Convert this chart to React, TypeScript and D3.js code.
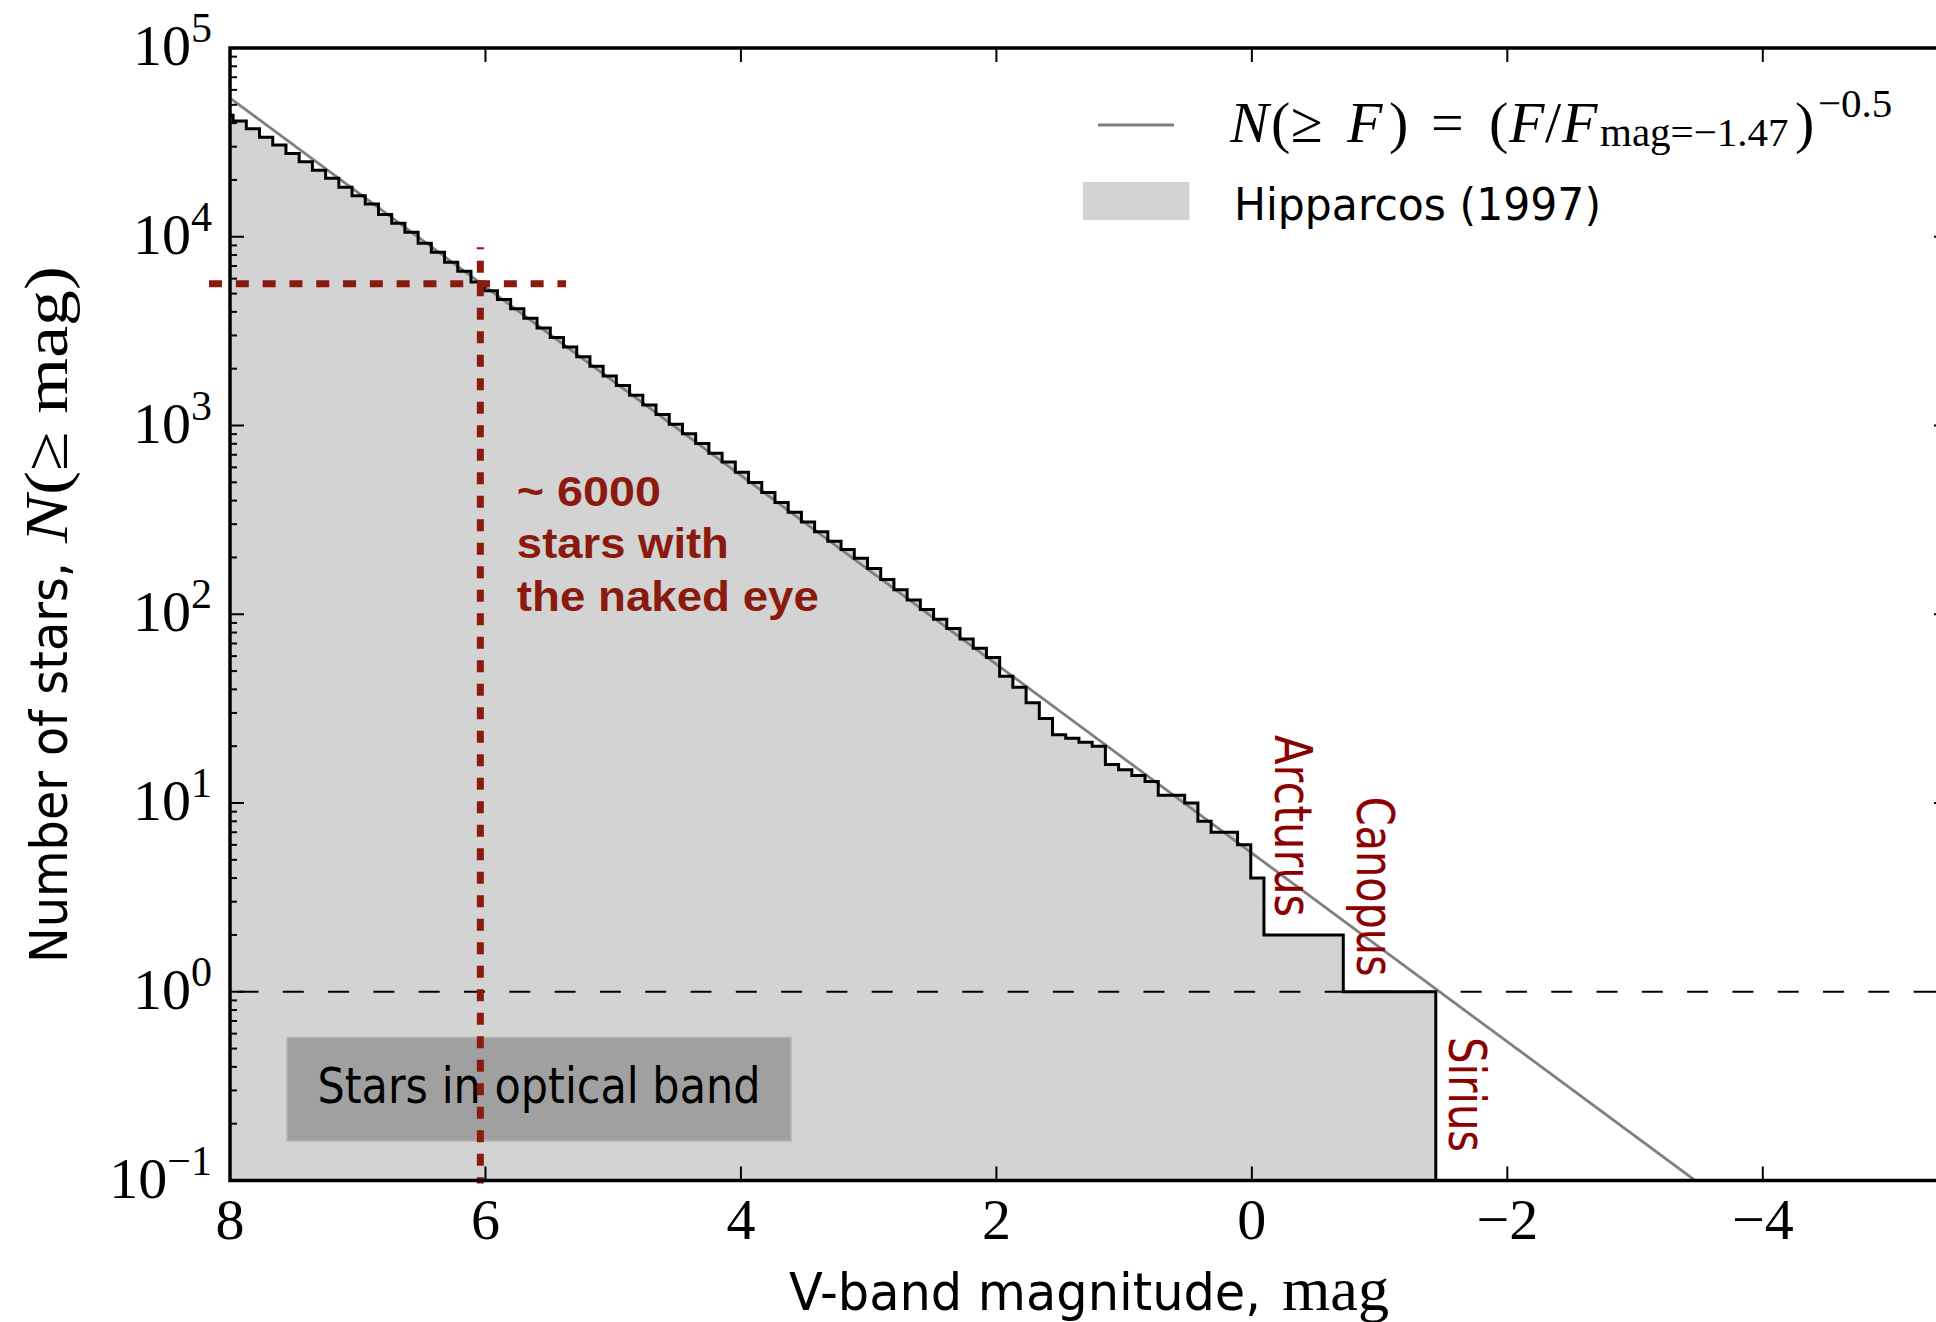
import React from 'react';
import * as d3 from 'd3';

// ---------------- data ----------------
// Hipparcos (1997) cumulative star counts N(< bin's faint edge), binned in V magnitude.
const binStartMag = -1.44;
const binWidthMag = 0.10347;
// bins 0..91, from bright (Sirius) to faint (~8 mag)
const hipparcosCumulative: number[] = [
  1, 1, 1, 1, 1, 1, 1,
  2, 2, 2, 2, 2, 2,
  4, 6, 7, 7, 8, 10, 11, 11, 13, 14, 15, 16, 20, 21, 22, 23, 28, 34, 41, 47, 59,
  66, 74, 84, 94, 106, 119, 135, 153, 175, 198, 220, 244, 274, 308, 347, 391, 442, 499, 565, 640,
  712, 802, 903, 1015, 1142, 1286, 1446, 1627, 1830, 2058, 2316, 2604, 2925, 3290, 3695, 4150, 4650,
  5180, 5760, 6560, 7330, 8280, 9250, 10550, 11800, 13100, 14900, 16500, 18300, 20400, 22500, 25000,
  27600, 30600, 33700, 37300, 41000, 44000,
];

// power law N(>=F) reference line (end points)
const powerLawMag = [8, -3.47];
const powerLawN = [54300, 0.1];

const xTickValues = [8, 6, 4, 2, 0, -2, -4];
const xTickLabels = ['8', '6', '4', '2', '0', '\u22122', '\u22124'];
const yTickExponents = [-1, 0, 1, 2, 3, 4, 5];
const yTickExpLabels = ['\u22121', '0', '1', '2', '3', '4', '5'];

const starNames = ['Arcturus', 'Canopus', 'Sirius'];
const starLabelMag = [-0.18, -0.82, -1.545];
const starLabelN = [22.9, 10.8, 0.575];

const nakedEyeMag = 6.04;
const nakedEyeN = 5640;
const nakedEyeVTopN = 8800;
const nakedEyeHMag = [8.164, 5.369];
const nakedEyeText = ['~ 6000', 'stars with', 'the naked eye'];
const nakedEyeTextMag = 5.754;
const nakedEyeTextN = 375;

const referenceN = 1;

const opticalBoxMag = [7.553, 3.608];
const opticalBoxN = [0.572, 0.162];
const opticalText = 'Stars in optical band';
const opticalTextMag = 7.315;
const opticalTextN = 0.2575;

// ---------------- layout / style ----------------
const WIDTH = 1936;
const HEIGHT = 1322;
const PLOT = { left: 230, right: 1948, top: 48, bottom: 1180.5 };
const X_DOMAIN: [number, number] = [8, -5.45];
const Y_DOMAIN: [number, number] = [0.1, 1e5];

const RED = '#8a1a0e';
const STAR_RED = '#8b0000';
const FILL = '#d3d3d3';
const SERIF = "'Liberation Serif', 'DejaVu Serif', serif";
const SANS = "'DejaVu Sans', 'Noto Sans', sans-serif";
const BOLD_SANS = "'Liberation Sans', Arial, sans-serif";
const starLabelLength = [182, 180, 115];
const nakedEyeLength = [144, 212, 302];
const TICK_FONT = 58;
const SUP_FONT = 42;

export default function App() {
  const x = d3.scaleLinear().domain(X_DOMAIN).range([PLOT.left, PLOT.right]);
  const y = d3.scaleLog().domain(Y_DOMAIN).range([PLOT.bottom, PLOT.top]);

  const steps: [number, number][] = [];
  for (let k = hipparcosCumulative.length - 1; k >= 0; k--) {
    const faintEdge = binStartMag + (k + 1) * binWidthMag;
    const brightEdge = binStartMag + k * binWidthMag;
    steps.push([faintEdge, hipparcosCumulative[k]], [brightEdge, hipparcosCumulative[k]]);
  }
  steps.push([binStartMag, 0.05]);

  const stepLine = d3.line<[number, number]>().x(d => x(d[0])).y(d => y(d[1]));
  const stepArea = d3
    .area<[number, number]>()
    .x(d => x(d[0]))
    .y0(y(0.05))
    .y1(d => y(d[1]));

  const powerPts: [number, number][] = powerLawMag.map((m, i) => [m, powerLawN[i]]);

  const allTicks = y.ticks();
  const minorTicks = allTicks.filter(v => {
    const l = Math.log10(v);
    return Math.abs(l - Math.round(l)) > 1e-6;
  });

  const majorLen = 14;
  const minorLen = 7;

  const yRef = y(referenceN);
  const nakedX = x(nakedEyeMag);
  const nakedY = y(nakedEyeN);

  return (
    <svg
      width={WIDTH}
      height={HEIGHT}
      style={{ position: 'absolute', left: 0, top: 0, background: '#fff' }}
    >
      <defs>
        <clipPath id="plotClip">
          <rect x={PLOT.left} y={PLOT.top} width={PLOT.right - PLOT.left} height={PLOT.bottom - PLOT.top} />
        </clipPath>
      </defs>
      <rect x={0} y={0} width={WIDTH} height={HEIGHT} fill="#fff" />

      <g clipPath="url(#plotClip)">
        <path d={stepArea(steps) || ''} fill={FILL} />
        {/* optical band box */}
        <rect
          x={x(opticalBoxMag[0])}
          y={y(opticalBoxN[0])}
          width={x(opticalBoxMag[1]) - x(opticalBoxMag[0])}
          height={y(opticalBoxN[1]) - y(opticalBoxN[0])}
          fill="#a0a0a0"
          stroke="#b4b4b4"
          strokeWidth={1.5}
        />
        <text
          x={x(opticalTextMag)}
          y={y(opticalTextN)}
          fontFamily={SANS}
          fontSize={50}
          textLength={443}
          lengthAdjust="spacingAndGlyphs"
          fill="#000"
        >
          {opticalText}
        </text>
        <line
          x1={PLOT.left}
          x2={PLOT.right}
          y1={yRef}
          y2={yRef}
          stroke="#000"
          strokeWidth={2}
          strokeDasharray="21 24.3"
          strokeDashoffset={37.8}
        />
        <path d={stepLine(powerPts) || ''} fill="none" stroke="#808080" strokeWidth={2.8} />
        <path d={stepLine(steps) || ''} fill="none" stroke="#000" strokeWidth={3} strokeLinejoin="miter" />
      </g>

      {/* naked-eye limit */}
      <line
        x1={nakedX}
        x2={nakedX}
        y1={y(nakedEyeVTopN)}
        y2={PLOT.bottom + 3}
        stroke={RED}
        strokeWidth={7}
        strokeDasharray="12 11.5"
        strokeDashoffset={10}
      />
      <line
        x1={x(nakedEyeHMag[0])}
        x2={x(nakedEyeHMag[1])}
        y1={nakedY}
        y2={nakedY}
        stroke={RED}
        strokeWidth={7}
        strokeDasharray="13 13.8"
      />
      {nakedEyeText.map((t, i) => (
        <text
          key={t}
          x={x(nakedEyeTextMag)}
          y={y(nakedEyeTextN) + i * 52.5}
          fontFamily={BOLD_SANS}
          fontWeight="bold"
          fontSize={43}
          fill={RED}
          textLength={nakedEyeLength[i]}
          lengthAdjust="spacingAndGlyphs"
          style={{ whiteSpace: 'pre' }}
        >
          {t}
        </text>
      ))}

      {/* star names */}
      {starNames.map((s, i) => (
        <text
          key={s}
          transform={`translate(${x(starLabelMag[i])},${y(starLabelN[i])}) rotate(90)`}
          fontFamily={SANS}
          fontSize={52}
          fill={STAR_RED}
          textLength={starLabelLength[i]}
          lengthAdjust="spacingAndGlyphs"
        >
          {s}
        </text>
      ))}

      {/* axes frame */}
      <rect
        x={PLOT.left}
        y={PLOT.top}
        width={PLOT.right - PLOT.left}
        height={PLOT.bottom - PLOT.top}
        fill="none"
        stroke="#000"
        strokeWidth={3.5}
      />
      {/* x ticks */}
      {xTickValues.map((v, i) => (
        <g key={`xt${v}`}>
          <line x1={x(v)} x2={x(v)} y1={PLOT.bottom} y2={PLOT.bottom - majorLen} stroke="#000" strokeWidth={2} />
          <line x1={x(v)} x2={x(v)} y1={PLOT.top} y2={PLOT.top + majorLen} stroke="#000" strokeWidth={2} />
          <text x={x(v)} y={1239} textAnchor="middle" fontFamily={SERIF} fontSize={TICK_FONT} fill="#000">
            {xTickLabels[i]}
          </text>
        </g>
      ))}
      {/* y ticks */}
      {yTickExponents.map((e, i) => {
        const yy = y(Math.pow(10, e));
        return (
          <g key={`yt${e}`}>
            <line x1={PLOT.left} x2={PLOT.left + majorLen} y1={yy} y2={yy} stroke="#000" strokeWidth={2} />
            <line x1={PLOT.right} x2={PLOT.right - majorLen} y1={yy} y2={yy} stroke="#000" strokeWidth={2} />
            <text x={212} y={yy + 17} textAnchor="end" fontFamily={SERIF} fontSize={TICK_FONT} fill="#000">
              10
              <tspan fontSize={SUP_FONT} dy={-23}>
                {yTickExpLabels[i]}
              </tspan>
            </text>
          </g>
        );
      })}
      {minorTicks.map(v => (
        <g key={`ym${v}`}>
          <line x1={PLOT.left} x2={PLOT.left + minorLen} y1={y(v)} y2={y(v)} stroke="#000" strokeWidth={2} />
          <line x1={PLOT.right} x2={PLOT.right - minorLen} y1={y(v)} y2={y(v)} stroke="#000" strokeWidth={2} />
        </g>
      ))}

      {/* axis labels */}
      <text
        transform="translate(67,963) rotate(-90)"
        fontFamily={SANS}
        fontSize={52}
        textLength={401}
        lengthAdjust="spacingAndGlyphs"
        fill="#000"
      >
        Number of stars,
      </text>
      <text
        transform="translate(67,543) rotate(-90)"
        fontFamily={SERIF}
        fontSize={62}
        textLength={277}
        lengthAdjust="spacingAndGlyphs"
        fill="#000"
        style={{ whiteSpace: 'pre' }}
      >
        <tspan fontStyle="italic">N</tspan>
        <tspan>{'(\u2265 mag)'}</tspan>
      </text>
      <text x={789} y={1310} fontFamily={SANS} fontSize={52} textLength={472} lengthAdjust="spacingAndGlyphs" fill="#000">
        V-band magnitude,
      </text>
      <text x={1282} y={1310} fontFamily={SERIF} fontSize={62} textLength={107} lengthAdjust="spacingAndGlyphs" fill="#000">
        mag
      </text>

      {/* legend */}
      <line x1={1098} x2={1174} y1={125} y2={125} stroke="#808080" strokeWidth={3} />
      <text fontFamily={SERIF} fontSize={58} fill="#000" y={142} style={{ whiteSpace: 'pre' }}>
        <tspan x={1230} fontStyle="italic">N</tspan>
        <tspan x={1271}>(</tspan>
        <tspan x={1291}>{'\u2265'}</tspan>
        <tspan x={1347} fontStyle="italic">F</tspan>
        <tspan x={1389}>)</tspan>
        <tspan x={1431}>=</tspan>
        <tspan x={1489}>(</tspan>
        <tspan x={1509} fontStyle="italic">F</tspan>
        <tspan x={1545}>/</tspan>
        <tspan x={1562} fontStyle="italic">F</tspan>
        <tspan x={1600} dy={4} fontSize={41}>{'mag=\u22121.47'}</tspan>
        <tspan x={1795} dy={-4}>)</tspan>
        <tspan x={1818} dy={-25} fontSize={41}>{'\u22120.5'}</tspan>
      </text>
      <rect x={1083} y={182} width={106.5} height={38} fill={FILL} />
      <text x={1234} y={220} fontFamily={SANS} fontSize={44} textLength={367} lengthAdjust="spacingAndGlyphs" fill="#000">
        Hipparcos (1997)
      </text>
    </svg>
  );
}
